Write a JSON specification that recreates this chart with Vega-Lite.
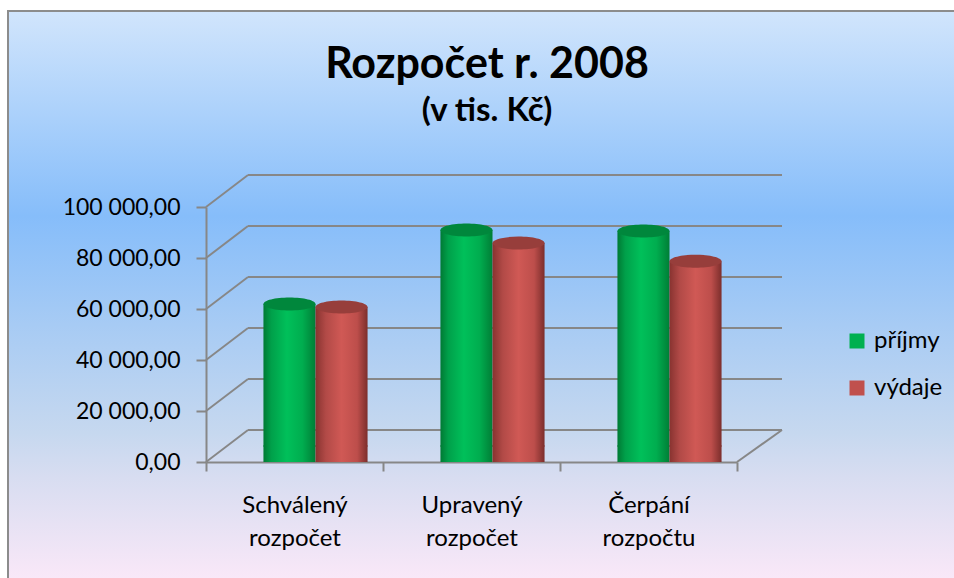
{
  "$schema": "https://vega.github.io/schema/vega-lite/v6.json",
  "width": 958,
  "height": 570,
  "autosize": {"type": "none"},
  "padding": {"left": 8, "top": 11, "right": 0, "bottom": 0},
  "background": "white",
  "config": {
    "locale": {"number": {"decimal": ",", "thousands": " ", "grouping": [3], "currency": ["", " Kč"]}},
    "font": "Lato",
    "view": {
      "stroke": "#8c8c8c",
      "strokeWidth": 2,
      "fill": {
        "gradient": "linear", "x1": 0, "y1": 0, "x2": 0, "y2": 1,
        "stops": [
          {"offset": 0, "color": "#d1e5fc"},
          {"offset": 0.36, "color": "#86bdfa"},
          {"offset": 0.55, "color": "#a7cbf4"},
          {"offset": 0.74, "color": "#c6d8ef"},
          {"offset": 0.82, "color": "#d8ddf1"},
          {"offset": 1, "color": "#fae8f8"}
        ]
      }
    }
  },
  "title": {
    "text": "Rozpočet r. 2008",
    "subtitle": "(v tis. Kč)",
    "anchor": "middle",
    "frame": "group",
    "offset": -117,
    "font": "Lato",
    "fontSize": 43,
    "fontWeight": "bold",
    "color": "black",
    "subtitleFont": "Lato",
    "subtitleFontSize": 33,
    "subtitleFontWeight": "bold",
    "subtitleColor": "black",
    "subtitlePadding": 8
  },
  "datasets": {
    "budget": [
      {"category": "Schválený rozpočet", "series": "příjmy", "value": 55700},
      {"category": "Schválený rozpočet", "series": "výdaje", "value": 54500},
      {"category": "Upravený rozpočet", "series": "příjmy", "value": 84700},
      {"category": "Upravený rozpočet", "series": "výdaje", "value": 79600},
      {"category": "Čerpání rozpočtu", "series": "příjmy", "value": 84300},
      {"category": "Čerpání rozpočtu", "series": "výdaje", "value": 72500}
    ],
    "ticks": [{"v": 0}, {"v": 20000}, {"v": 40000}, {"v": 60000}, {"v": 80000}, {"v": 100000}]
  },
  "layer": [
    {
      "data": {"name": "ticks"},
      "layer": [
        {
          "mark": {"type": "rule", "color": "#878787", "strokeWidth": 2, "xOffset": 42, "x2Offset": 45, "yOffset": -32},
          "encoding": {
            "x": {"datum": 0, "type": "quantitative", "scale": {"domain": [0, 3], "range": [198, 729], "nice": false, "zero": false}, "axis": null},
            "x2": {"datum": 3},
            "y": {
              "field": "v", "type": "quantitative",
              "scale": {"domain": [0, 100000], "range": [451, 196], "nice": false, "zero": true},
              "axis": {
                "orient": "left", "offset": -198, "title": null,
                "values": [0, 20000, 40000, 60000, 80000, 100000],
                "format": ",.2f",
                "grid": false,
                "domain": true, "domainColor": "#878787", "domainWidth": 2,
                "ticks": true, "tickColor": "#878787", "tickWidth": 2, "tickSize": 10,
                "labelFont": "Lato", "labelFontSize": 23, "labelColor": "black", "labelPadding": 16
              }
            }
          }
        },
        {
          "mark": {"type": "rule", "color": "#878787", "strokeWidth": 2, "x2Offset": 42, "y2Offset": -32},
          "encoding": {
            "x": {"datum": 0, "type": "quantitative"},
            "x2": {"datum": 0},
            "y": {"field": "v", "type": "quantitative"},
            "y2": {"field": "v"}
          }
        },
        {
          "transform": [{"filter": "datum.v === 0"}],
          "mark": {"type": "rule", "color": "#878787", "strokeWidth": 2, "x2Offset": 45, "y2Offset": -32},
          "encoding": {
            "x": {"datum": 3, "type": "quantitative"},
            "x2": {"datum": 3},
            "y": {"field": "v", "type": "quantitative"},
            "y2": {"field": "v"}
          }
        }
      ]
    },
    {
      "data": {"name": "budget"},
      "mark": {"type": "point", "opacity": 0},
      "encoding": {
        "x": {
          "field": "category", "type": "nominal", "sort": null,
          "scale": {"range": [198, 729], "paddingInner": 0, "paddingOuter": 0},
          "axis": {
            "orient": "bottom", "offset": -119, "title": null, "labelAngle": 0,
            "domain": true, "domainColor": "#878787", "domainWidth": 2,
            "ticks": true, "tickBand": "extent", "tickColor": "#878787", "tickWidth": 2, "tickSize": 9,
            "labelExpr": "split(datum.label, ' ')",
            "labelFont": "Lato", "labelFontSize": 24, "labelColor": "black", "labelPadding": 22, "labelLineHeight": 33
          }
        },
        "y": {"field": "value", "type": "quantitative"}
      }
    },
    {
      "data": {"name": "budget"},
      "encoding": {
        "x": {
          "field": "category", "type": "nominal", "sort": null,
          "scale": {"range": [219, 750], "paddingInner": 0, "paddingOuter": 0},
          "axis": null
        },
        "xOffset": {"field": "series", "type": "nominal", "scale": {"paddingInner": 0, "paddingOuter": 0.7}}
      },
      "layer": [
        {
          "mark": {"type": "square", "opacity": 0, "size": 10},
          "encoding": {
            "y": {"field": "value", "type": "quantitative"},
            "color": {
              "field": "series", "type": "nominal",
              "scale": {"domain": ["příjmy", "výdaje"], "range": ["#00b050", "#c0504d"]},
              "legend": {
                "title": null, "orient": "none", "legendX": 837, "legendY": 318,
                "symbolType": "square", "symbolSize": 225, "symbolStrokeWidth": 0, "symbolOpacity": 1,
                "labelFont": "Lato", "labelFontSize": 24, "labelColor": "black", "labelOffset": 5, "rowPadding": 23
              }
            }
          }
        },
        {
          "mark": {"type": "point", "shape": "M-1,0A1,0.25,0,1,0,1,0A1,0.25,0,1,0,-1,0Z", "size": 2704, "filled": true, "opacity": 1, "strokeWidth": 0, "yOffset": -16},
          "encoding": {
            "y": {"datum": 0, "type": "quantitative"},
            "fill": {
              "condition": {
                "test": "datum.series === 'příjmy'",
                "value": {"gradient": "linear", "x1": 0, "y1": 0, "x2": 1, "y2": 0,
                  "stops": [{"offset": 0, "color": "#007a34"}, {"offset": 0.15, "color": "#00a04a"}, {"offset": 0.45, "color": "#00c05a"}, {"offset": 0.75, "color": "#00ad4f"}, {"offset": 1, "color": "#007e36"}]}
              },
              "value": {"gradient": "linear", "x1": 0, "y1": 0, "x2": 1, "y2": 0,
                "stops": [{"offset": 0, "color": "#883330"}, {"offset": 0.2, "color": "#b24a47"}, {"offset": 0.5, "color": "#d05955"}, {"offset": 0.8, "color": "#bd4e4b"}, {"offset": 1, "color": "#7c2e2c"}]}
            }
          }
        },
        {
          "mark": {"type": "bar", "yOffset": -16, "y2Offset": -16, "strokeWidth": 0},
          "encoding": {
            "y": {"field": "value", "type": "quantitative", "stack": null},
            "fill": {
              "condition": {
                "test": "datum.series === 'příjmy'",
                "value": {"gradient": "linear", "x1": 0, "y1": 0, "x2": 1, "y2": 0,
                  "stops": [{"offset": 0, "color": "#007a34"}, {"offset": 0.15, "color": "#00a04a"}, {"offset": 0.45, "color": "#00c05a"}, {"offset": 0.75, "color": "#00ad4f"}, {"offset": 1, "color": "#007e36"}]}
              },
              "value": {"gradient": "linear", "x1": 0, "y1": 0, "x2": 1, "y2": 0,
                "stops": [{"offset": 0, "color": "#883330"}, {"offset": 0.2, "color": "#b24a47"}, {"offset": 0.5, "color": "#d05955"}, {"offset": 0.8, "color": "#bd4e4b"}, {"offset": 1, "color": "#7c2e2c"}]}
            }
          }
        },
        {
          "mark": {"type": "point", "shape": "M-1,0A1,0.25,0,1,0,1,0A1,0.25,0,1,0,-1,0Z", "size": 2704, "filled": true, "opacity": 1, "strokeWidth": 0, "yOffset": -16},
          "encoding": {
            "y": {"field": "value", "type": "quantitative"},
            "fill": {
              "condition": {"test": "datum.series === 'příjmy'", "value": "#00873c"},
              "value": "#973e3b"
            }
          }
        }
      ]
    }
  ],
  "resolve": {"scale": {"x": "independent"}}
}
